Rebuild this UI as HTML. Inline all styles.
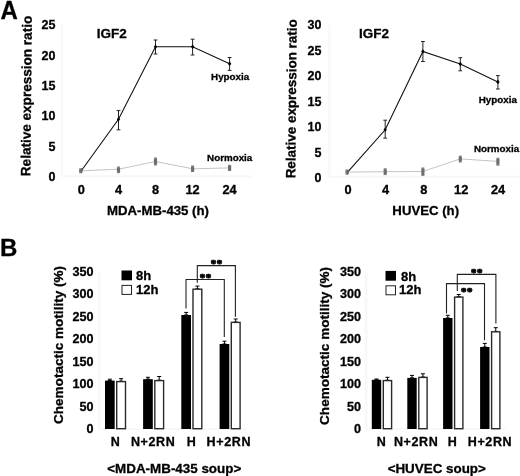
<!DOCTYPE html>
<html><head><meta charset="utf-8"><title>Figure</title>
<style>
html,body{margin:0;padding:0;background:#fff;}
body{width:520px;height:476px;overflow:hidden;}
svg{display:block;}
text{font-family:"Liberation Sans", Arial, sans-serif;font-weight:bold;fill:#000;stroke:#000;stroke-width:0.3px;}
</style></head><body>
<svg width="520" height="476" viewBox="0 0 520 476">
<rect width="520" height="476" fill="#fff"/>
<text x="0.6" y="19.2" font-size="25.5" text-anchor="start" textLength="17.3" lengthAdjust="spacingAndGlyphs">A</text>
<text x="0" y="255.5" font-size="24" text-anchor="start" font-weight="bold">B</text>
<line x1="62" y1="24.7" x2="62" y2="176.2" stroke="#f8f8f8" stroke-width="2.5" />
<line x1="62" y1="176.2" x2="251.6" y2="176.2" stroke="#f7f7f7" stroke-width="2" />
<text x="55.5" y="180.8" font-size="12.5" text-anchor="end" >0</text>
<text x="55.5" y="150.5" font-size="12.5" text-anchor="end" >5</text>
<text x="55.5" y="120.2" font-size="12.5" text-anchor="end" >10</text>
<text x="55.5" y="89.9" font-size="12.5" text-anchor="end" >15</text>
<text x="55.5" y="59.6" font-size="12.5" text-anchor="end" >20</text>
<text x="55.5" y="29.3" font-size="12.5" text-anchor="end" >25</text>
<text x="81.3" y="194.2" font-size="12.8" text-anchor="middle" >0</text>
<text x="118.5" y="194.2" font-size="12.8" text-anchor="middle" >4</text>
<text x="155.5" y="194.2" font-size="12.8" text-anchor="middle" >8</text>
<text x="192.6" y="194.2" font-size="12.8" text-anchor="middle" >12</text>
<text x="229.6" y="194.2" font-size="12.8" text-anchor="middle" >24</text>
<text x="158" y="214.8" font-size="13.2" text-anchor="middle" >MDA-MB-435 (h)</text>
<text x="0" y="0" font-size="13.55" text-anchor="middle" transform="translate(31.1,96) rotate(-89.46)">Relative expression ratio</text>
<text x="96.8" y="37.8" font-size="13.5" text-anchor="start" >IGF2</text>
<polyline points="81.3,170.8 118.5,119.2 155.5,46.7 192.6,46.7 229.6,63.8" fill="none" stroke="#111" stroke-width="1.1"/>
<line x1="118.5" y1="110.6" x2="118.5" y2="129.8" stroke="#222" stroke-width="1" />
<line x1="116.6" y1="110.6" x2="120.4" y2="110.6" stroke="#222" stroke-width="1" />
<line x1="116.6" y1="129.8" x2="120.4" y2="129.8" stroke="#222" stroke-width="1" />
<line x1="155.5" y1="40" x2="155.5" y2="54" stroke="#222" stroke-width="1" />
<line x1="153.6" y1="40" x2="157.4" y2="40" stroke="#222" stroke-width="1" />
<line x1="153.6" y1="54" x2="157.4" y2="54" stroke="#222" stroke-width="1" />
<line x1="192.6" y1="39.2" x2="192.6" y2="55" stroke="#222" stroke-width="1" />
<line x1="190.7" y1="39.2" x2="194.5" y2="39.2" stroke="#222" stroke-width="1" />
<line x1="190.7" y1="55" x2="194.5" y2="55" stroke="#222" stroke-width="1" />
<line x1="229.6" y1="57.5" x2="229.6" y2="70.4" stroke="#222" stroke-width="1" />
<line x1="227.7" y1="57.5" x2="231.5" y2="57.5" stroke="#222" stroke-width="1" />
<line x1="227.7" y1="70.4" x2="231.5" y2="70.4" stroke="#222" stroke-width="1" />
<polygon points="81.3,168.5 83.0,170.8 81.3,173.1 79.6,170.8" fill="#000"/>
<polygon points="118.5,116.9 120.2,119.2 118.5,121.5 116.8,119.2" fill="#000"/>
<polygon points="155.5,44.4 157.2,46.7 155.5,49.0 153.8,46.7" fill="#000"/>
<polygon points="192.6,44.4 194.3,46.7 192.6,49.0 190.9,46.7" fill="#000"/>
<polygon points="229.6,61.5 231.3,63.8 229.6,66.1 227.9,63.8" fill="#000"/>
<polyline points="81.3,170.8 118.5,169.2 155.5,161.5 192.6,168.8 229.6,167.9" fill="none" stroke="#c4c4c4" stroke-width="1"/>
<line x1="80.7" y1="168.8" x2="80.7" y2="172.8" stroke="#777" stroke-width="1" />
<line x1="79.2" y1="168.8" x2="82.2" y2="168.8" stroke="#777" stroke-width="1" />
<line x1="79.2" y1="172.8" x2="82.2" y2="172.8" stroke="#777" stroke-width="1" />
<rect x="79.1" y="169.3" width="3.2" height="3.0" fill="#6e6e6e" stroke="none" stroke-width="0"/>
<line x1="118.5" y1="167" x2="118.5" y2="172.7" stroke="#777" stroke-width="1" />
<line x1="117.0" y1="167" x2="120.0" y2="167" stroke="#777" stroke-width="1" />
<line x1="117.0" y1="172.7" x2="120.0" y2="172.7" stroke="#777" stroke-width="1" />
<rect x="116.9" y="167.5" width="3.2" height="4.7" fill="#6e6e6e" stroke="none" stroke-width="0"/>
<line x1="155.5" y1="158" x2="155.5" y2="165" stroke="#777" stroke-width="1" />
<line x1="154.0" y1="158" x2="157.0" y2="158" stroke="#777" stroke-width="1" />
<line x1="154.0" y1="165" x2="157.0" y2="165" stroke="#777" stroke-width="1" />
<rect x="153.9" y="158.5" width="3.2" height="6" fill="#6e6e6e" stroke="none" stroke-width="0"/>
<line x1="192.6" y1="166" x2="192.6" y2="171.5" stroke="#777" stroke-width="1" />
<line x1="191.1" y1="166" x2="194.1" y2="166" stroke="#777" stroke-width="1" />
<line x1="191.1" y1="171.5" x2="194.1" y2="171.5" stroke="#777" stroke-width="1" />
<rect x="191.0" y="166.5" width="3.2" height="4.5" fill="#6e6e6e" stroke="none" stroke-width="0"/>
<line x1="229.6" y1="165.3" x2="229.6" y2="170.5" stroke="#777" stroke-width="1" />
<line x1="228.1" y1="165.3" x2="231.1" y2="165.3" stroke="#777" stroke-width="1" />
<line x1="228.1" y1="170.5" x2="231.1" y2="170.5" stroke="#777" stroke-width="1" />
<rect x="228.0" y="165.8" width="3.2" height="4.2" fill="#6e6e6e" stroke="none" stroke-width="0"/>
<text x="211.1" y="80.2" font-size="9.8" text-anchor="start" >Hypoxia</text>
<text x="207.1" y="160.8" font-size="9.8" text-anchor="start" >Normoxia</text>
<line x1="329.5" y1="24.7" x2="329.5" y2="176.8" stroke="#f8f8f8" stroke-width="2.5" />
<line x1="329.5" y1="176.8" x2="519.9" y2="176.8" stroke="#f7f7f7" stroke-width="2" />
<text x="321.5" y="182.0" font-size="12.5" text-anchor="end" >0</text>
<text x="321.5" y="156.53" font-size="12.5" text-anchor="end" >5</text>
<text x="321.5" y="131.07" font-size="12.5" text-anchor="end" >10</text>
<text x="321.5" y="105.61" font-size="12.5" text-anchor="end" >15</text>
<text x="321.5" y="80.14" font-size="12.5" text-anchor="end" >20</text>
<text x="321.5" y="54.68" font-size="12.5" text-anchor="end" >25</text>
<text x="321.5" y="29.21" font-size="12.5" text-anchor="end" >30</text>
<text x="348.1" y="194.2" font-size="12.8" text-anchor="middle" >0</text>
<text x="385.6" y="194.2" font-size="12.8" text-anchor="middle" >4</text>
<text x="423.7" y="194.2" font-size="12.8" text-anchor="middle" >8</text>
<text x="461.2" y="194.2" font-size="12.8" text-anchor="middle" >12</text>
<text x="498.1" y="194.2" font-size="12.8" text-anchor="middle" >24</text>
<text x="425.7" y="214.8" font-size="13.2" text-anchor="middle" >HUVEC (h)</text>
<text x="0" y="0" font-size="13.45" text-anchor="middle" transform="translate(296.0,98.8) rotate(-89.46)">Relative expression ratio</text>
<text x="359" y="37.8" font-size="13.5" text-anchor="start" >IGF2</text>
<polyline points="347.6,172.1 385.2,129.8 422.9,51.5 460.3,64 497.9,81.9" fill="none" stroke="#111" stroke-width="1.1"/>
<line x1="385.2" y1="120.2" x2="385.2" y2="138.1" stroke="#222" stroke-width="1" />
<line x1="383.3" y1="120.2" x2="387.1" y2="120.2" stroke="#222" stroke-width="1" />
<line x1="383.3" y1="138.1" x2="387.1" y2="138.1" stroke="#222" stroke-width="1" />
<line x1="422.9" y1="41.5" x2="422.9" y2="61.5" stroke="#222" stroke-width="1" />
<line x1="421.0" y1="41.5" x2="424.8" y2="41.5" stroke="#222" stroke-width="1" />
<line x1="421.0" y1="61.5" x2="424.8" y2="61.5" stroke="#222" stroke-width="1" />
<line x1="460.3" y1="57.7" x2="460.3" y2="70.8" stroke="#222" stroke-width="1" />
<line x1="458.4" y1="57.7" x2="462.2" y2="57.7" stroke="#222" stroke-width="1" />
<line x1="458.4" y1="70.8" x2="462.2" y2="70.8" stroke="#222" stroke-width="1" />
<line x1="497.9" y1="75.6" x2="497.9" y2="89" stroke="#222" stroke-width="1" />
<line x1="496.0" y1="75.6" x2="499.8" y2="75.6" stroke="#222" stroke-width="1" />
<line x1="496.0" y1="89" x2="499.8" y2="89" stroke="#222" stroke-width="1" />
<polygon points="347.6,169.8 349.3,172.1 347.6,174.4 345.9,172.1" fill="#000"/>
<polygon points="385.2,127.5 386.9,129.8 385.2,132.1 383.5,129.8" fill="#000"/>
<polygon points="422.9,49.2 424.6,51.5 422.9,53.8 421.2,51.5" fill="#000"/>
<polygon points="460.3,61.7 462.0,64 460.3,66.3 458.6,64" fill="#000"/>
<polygon points="497.9,79.6 499.6,81.9 497.9,84.2 496.2,81.9" fill="#000"/>
<polyline points="347.6,172.1 385.2,171.7 422.9,171.5 460.3,158.9 497.9,161.4" fill="none" stroke="#c4c4c4" stroke-width="1"/>
<line x1="347.0" y1="170" x2="347.0" y2="174.2" stroke="#777" stroke-width="1" />
<line x1="345.5" y1="170" x2="348.5" y2="170" stroke="#777" stroke-width="1" />
<line x1="345.5" y1="174.2" x2="348.5" y2="174.2" stroke="#777" stroke-width="1" />
<rect x="345.4" y="170.5" width="3.2" height="3.2" fill="#6e6e6e" stroke="none" stroke-width="0"/>
<line x1="385.2" y1="168.8" x2="385.2" y2="174.6" stroke="#777" stroke-width="1" />
<line x1="383.7" y1="168.8" x2="386.7" y2="168.8" stroke="#777" stroke-width="1" />
<line x1="383.7" y1="174.6" x2="386.7" y2="174.6" stroke="#777" stroke-width="1" />
<rect x="383.6" y="169.3" width="3.2" height="4.8" fill="#6e6e6e" stroke="none" stroke-width="0"/>
<line x1="422.9" y1="168" x2="422.9" y2="175.4" stroke="#777" stroke-width="1" />
<line x1="421.4" y1="168" x2="424.4" y2="168" stroke="#777" stroke-width="1" />
<line x1="421.4" y1="175.4" x2="424.4" y2="175.4" stroke="#777" stroke-width="1" />
<rect x="421.3" y="168.5" width="3.2" height="6.4" fill="#6e6e6e" stroke="none" stroke-width="0"/>
<line x1="460.3" y1="156.2" x2="460.3" y2="162" stroke="#777" stroke-width="1" />
<line x1="458.8" y1="156.2" x2="461.8" y2="156.2" stroke="#777" stroke-width="1" />
<line x1="458.8" y1="162" x2="461.8" y2="162" stroke="#777" stroke-width="1" />
<rect x="458.7" y="156.7" width="3.2" height="4.8" fill="#6e6e6e" stroke="none" stroke-width="0"/>
<line x1="497.9" y1="158.3" x2="497.9" y2="165.2" stroke="#777" stroke-width="1" />
<line x1="496.4" y1="158.3" x2="499.4" y2="158.3" stroke="#777" stroke-width="1" />
<line x1="496.4" y1="165.2" x2="499.4" y2="165.2" stroke="#777" stroke-width="1" />
<rect x="496.3" y="158.8" width="3.2" height="5.9" fill="#6e6e6e" stroke="none" stroke-width="0"/>
<text x="478.8" y="103" font-size="9.8" text-anchor="start" >Hypoxia</text>
<text x="474" y="152.0" font-size="9.8" text-anchor="start" >Normoxia</text>
<line x1="99.2" y1="271.81" x2="99.2" y2="428.6" stroke="#f8f8f8" stroke-width="2.8" />
<line x1="99.2" y1="429.1" x2="246.3" y2="429.1" stroke="#f6f6f6" stroke-width="1.5" />
<text x="93.5" y="433.0" font-size="12.6" text-anchor="end" >0</text>
<text x="93.5" y="410.53" font-size="12.6" text-anchor="end" >50</text>
<text x="93.5" y="388.06" font-size="12.6" text-anchor="end" >100</text>
<text x="93.5" y="365.59" font-size="12.6" text-anchor="end" >150</text>
<text x="93.5" y="343.12" font-size="12.6" text-anchor="end" >200</text>
<text x="93.5" y="320.65" font-size="12.6" text-anchor="end" >250</text>
<text x="93.5" y="298.18" font-size="12.6" text-anchor="end" >300</text>
<text x="93.5" y="275.71" font-size="12.6" text-anchor="end" >350</text>
<text x="0" y="0" font-size="13.55" text-anchor="middle" transform="translate(62.6,345.0) rotate(-90)">Chemotactic motility (%)</text>
<line x1="109.85" y1="379.2" x2="109.85" y2="380.6" stroke="#000" stroke-width="1" />
<line x1="107.85" y1="379.2" x2="111.85" y2="379.2" stroke="#000" stroke-width="1" />
<line x1="107.85" y1="380.6" x2="111.85" y2="380.6" stroke="#000" stroke-width="1" />
<line x1="121.1" y1="378.7" x2="121.1" y2="381.2" stroke="#000" stroke-width="1" />
<line x1="119.1" y1="378.7" x2="123.1" y2="378.7" stroke="#000" stroke-width="1" />
<line x1="119.1" y1="381.2" x2="123.1" y2="381.2" stroke="#000" stroke-width="1" />
<rect x="105" y="380.6" width="9.7" height="48.4" fill="#000" stroke="none" stroke-width="0"/>
<rect x="116.7" y="381.6" width="8.8" height="47.1" fill="#fff" stroke="#2a2a2a" stroke-width="1.4"/>
<line x1="147.95" y1="377.3" x2="147.95" y2="379.2" stroke="#000" stroke-width="1" />
<line x1="145.95" y1="377.3" x2="149.95" y2="377.3" stroke="#000" stroke-width="1" />
<line x1="145.95" y1="379.2" x2="149.95" y2="379.2" stroke="#000" stroke-width="1" />
<line x1="159.2" y1="376.5" x2="159.2" y2="380.2" stroke="#000" stroke-width="1" />
<line x1="157.2" y1="376.5" x2="161.2" y2="376.5" stroke="#000" stroke-width="1" />
<line x1="157.2" y1="380.2" x2="161.2" y2="380.2" stroke="#000" stroke-width="1" />
<rect x="143.1" y="379.2" width="9.7" height="49.8" fill="#000" stroke="none" stroke-width="0"/>
<rect x="154.8" y="380.6" width="8.8" height="48.1" fill="#fff" stroke="#2a2a2a" stroke-width="1.4"/>
<line x1="186.15" y1="312.4" x2="186.15" y2="315" stroke="#000" stroke-width="1" />
<line x1="184.15" y1="312.4" x2="188.15" y2="312.4" stroke="#000" stroke-width="1" />
<line x1="184.15" y1="315" x2="188.15" y2="315" stroke="#000" stroke-width="1" />
<line x1="197.4" y1="286.1" x2="197.4" y2="288.8" stroke="#000" stroke-width="1" />
<line x1="195.4" y1="286.1" x2="199.4" y2="286.1" stroke="#000" stroke-width="1" />
<line x1="195.4" y1="288.8" x2="199.4" y2="288.8" stroke="#000" stroke-width="1" />
<rect x="181.3" y="315" width="9.7" height="114" fill="#000" stroke="none" stroke-width="0"/>
<rect x="193.0" y="289.2" width="8.8" height="139.5" fill="#fff" stroke="#2a2a2a" stroke-width="1.4"/>
<line x1="224.45" y1="341.2" x2="224.45" y2="344" stroke="#000" stroke-width="1" />
<line x1="222.45" y1="341.2" x2="226.45" y2="341.2" stroke="#000" stroke-width="1" />
<line x1="222.45" y1="344" x2="226.45" y2="344" stroke="#000" stroke-width="1" />
<line x1="235.7" y1="319" x2="235.7" y2="322" stroke="#000" stroke-width="1" />
<line x1="233.7" y1="319" x2="237.7" y2="319" stroke="#000" stroke-width="1" />
<line x1="233.7" y1="322" x2="237.7" y2="322" stroke="#000" stroke-width="1" />
<rect x="219.6" y="344" width="9.7" height="85" fill="#000" stroke="none" stroke-width="0"/>
<rect x="231.3" y="322.4" width="8.8" height="106.3" fill="#fff" stroke="#2a2a2a" stroke-width="1.4"/>
<polyline points="186,308.6 186,279.5 224.3,279.5 224.3,337" fill="none" stroke="#222" stroke-width="1.1"/>
<polyline points="197.3,282.7 197.3,265.6 235.4,265.6 235.4,316.8" fill="none" stroke="#222" stroke-width="1.1"/>
<text x="205.65" y="280.5" font-size="11" text-anchor="middle" letter-spacing="0.5" style="font-family:'Liberation Serif', serif;stroke-width:0.75px">**</text>
<text x="216.8" y="267.1" font-size="11" text-anchor="middle" letter-spacing="0.5" style="font-family:'Liberation Serif', serif;stroke-width:0.75px">**</text>
<rect x="121.5" y="270.5" width="10.5" height="9.8" fill="#000" stroke="none" stroke-width="0"/>
<rect x="122.0" y="285.4" width="9.5" height="9" fill="#fff" stroke="#222" stroke-width="1"/>
<text x="136" y="280.1" font-size="13" text-anchor="start" >8h</text>
<text x="136" y="293.8" font-size="13" text-anchor="start" >12h</text>
<text x="115.3" y="446" font-size="12.5" text-anchor="middle" >N</text>
<text x="153.2" y="446" font-size="12.5" text-anchor="middle" letter-spacing="0.65">N+2RN</text>
<text x="191.2" y="446" font-size="12.5" text-anchor="middle" >H</text>
<text x="228.8" y="446" font-size="12.5" text-anchor="middle" letter-spacing="0.65">H+2RN</text>
<text x="174.25" y="472.9" font-size="13.4" text-anchor="middle" >&lt;MDA-MB-435 soup&gt;</text>
<line x1="366" y1="271.81" x2="366" y2="428.6" stroke="#f8f8f8" stroke-width="2.8" />
<line x1="366" y1="429.1" x2="506.3" y2="429.1" stroke="#f6f6f6" stroke-width="1.5" />
<text x="361" y="433.0" font-size="12.6" text-anchor="end" >0</text>
<text x="361" y="410.53" font-size="12.6" text-anchor="end" >50</text>
<text x="361" y="388.06" font-size="12.6" text-anchor="end" >100</text>
<text x="361" y="365.59" font-size="12.6" text-anchor="end" >150</text>
<text x="361" y="343.12" font-size="12.6" text-anchor="end" >200</text>
<text x="361" y="320.65" font-size="12.6" text-anchor="end" >250</text>
<text x="361" y="298.18" font-size="12.6" text-anchor="end" >300</text>
<text x="361" y="275.71" font-size="12.6" text-anchor="end" >350</text>
<text x="0" y="0" font-size="13.55" text-anchor="middle" transform="translate(328.8,345.9) rotate(-90)">Chemotactic motility (%)</text>
<line x1="376.5" y1="379" x2="376.5" y2="379.8" stroke="#000" stroke-width="1" />
<line x1="374.5" y1="379" x2="378.5" y2="379" stroke="#000" stroke-width="1" />
<line x1="374.5" y1="379.8" x2="378.5" y2="379.8" stroke="#000" stroke-width="1" />
<line x1="387.45" y1="377.3" x2="387.45" y2="380.2" stroke="#000" stroke-width="1" />
<line x1="385.45" y1="377.3" x2="389.45" y2="377.3" stroke="#000" stroke-width="1" />
<line x1="385.45" y1="380.2" x2="389.45" y2="380.2" stroke="#000" stroke-width="1" />
<rect x="371.8" y="379.8" width="9.4" height="49.2" fill="#000" stroke="none" stroke-width="0"/>
<rect x="383.3" y="380.6" width="8.3" height="48.1" fill="#fff" stroke="#2a2a2a" stroke-width="1.4"/>
<line x1="412.0" y1="375.4" x2="412.0" y2="377.9" stroke="#000" stroke-width="1" />
<line x1="410.0" y1="375.4" x2="414.0" y2="375.4" stroke="#000" stroke-width="1" />
<line x1="410.0" y1="377.9" x2="414.0" y2="377.9" stroke="#000" stroke-width="1" />
<line x1="422.95" y1="373.8" x2="422.95" y2="377" stroke="#000" stroke-width="1" />
<line x1="420.95" y1="373.8" x2="424.95" y2="373.8" stroke="#000" stroke-width="1" />
<line x1="420.95" y1="377" x2="424.95" y2="377" stroke="#000" stroke-width="1" />
<rect x="407.3" y="377.9" width="9.4" height="51.1" fill="#000" stroke="none" stroke-width="0"/>
<rect x="418.8" y="377.4" width="8.3" height="51.3" fill="#fff" stroke="#2a2a2a" stroke-width="1.4"/>
<line x1="447.8" y1="315.3" x2="447.8" y2="318" stroke="#000" stroke-width="1" />
<line x1="445.8" y1="315.3" x2="449.8" y2="315.3" stroke="#000" stroke-width="1" />
<line x1="445.8" y1="318" x2="449.8" y2="318" stroke="#000" stroke-width="1" />
<line x1="458.75" y1="294.5" x2="458.75" y2="296.7" stroke="#000" stroke-width="1" />
<line x1="456.75" y1="294.5" x2="460.75" y2="294.5" stroke="#000" stroke-width="1" />
<line x1="456.75" y1="296.7" x2="460.75" y2="296.7" stroke="#000" stroke-width="1" />
<rect x="443.1" y="318" width="9.4" height="111" fill="#000" stroke="none" stroke-width="0"/>
<rect x="454.6" y="297.1" width="8.3" height="131.6" fill="#fff" stroke="#2a2a2a" stroke-width="1.4"/>
<line x1="484.8" y1="343.4" x2="484.8" y2="347" stroke="#000" stroke-width="1" />
<line x1="482.8" y1="343.4" x2="486.8" y2="343.4" stroke="#000" stroke-width="1" />
<line x1="482.8" y1="347" x2="486.8" y2="347" stroke="#000" stroke-width="1" />
<line x1="495.75" y1="327.7" x2="495.75" y2="331.4" stroke="#000" stroke-width="1" />
<line x1="493.75" y1="327.7" x2="497.75" y2="327.7" stroke="#000" stroke-width="1" />
<line x1="493.75" y1="331.4" x2="497.75" y2="331.4" stroke="#000" stroke-width="1" />
<rect x="480.1" y="347" width="9.4" height="82" fill="#000" stroke="none" stroke-width="0"/>
<rect x="491.6" y="331.8" width="8.3" height="96.9" fill="#fff" stroke="#2a2a2a" stroke-width="1.4"/>
<polyline points="446.5,313.4 446.5,283.6 484.5,283.6 484.5,340.3" fill="none" stroke="#222" stroke-width="1.1"/>
<polyline points="457.3,290.9 457.3,274.4 495.9,274.4 495.9,323.5" fill="none" stroke="#222" stroke-width="1.1"/>
<text x="466.9" y="295.0" font-size="11" text-anchor="middle" letter-spacing="0.5" style="font-family:'Liberation Serif', serif;stroke-width:0.75px">**</text>
<text x="476.9" y="275.5" font-size="11" text-anchor="middle" letter-spacing="0.5" style="font-family:'Liberation Serif', serif;stroke-width:0.75px">**</text>
<rect x="385.5" y="270.9" width="10.5" height="9.8" fill="#000" stroke="none" stroke-width="0"/>
<rect x="386.0" y="285.8" width="9.5" height="9" fill="#fff" stroke="#222" stroke-width="1"/>
<text x="401" y="280.5" font-size="13" text-anchor="start" >8h</text>
<text x="399" y="294.2" font-size="13" text-anchor="start" >12h</text>
<text x="381.2" y="446" font-size="12.5" text-anchor="middle" >N</text>
<text x="416.2" y="446" font-size="12.5" text-anchor="middle" letter-spacing="0.65">N+2RN</text>
<text x="452.2" y="446" font-size="12.5" text-anchor="middle" >H</text>
<text x="490" y="446" font-size="12.5" text-anchor="middle" letter-spacing="0.65">H+2RN</text>
<text x="436.75" y="472.9" font-size="13.4" text-anchor="middle" >&lt;HUVEC soup&gt;</text>
</svg>
</body></html>
